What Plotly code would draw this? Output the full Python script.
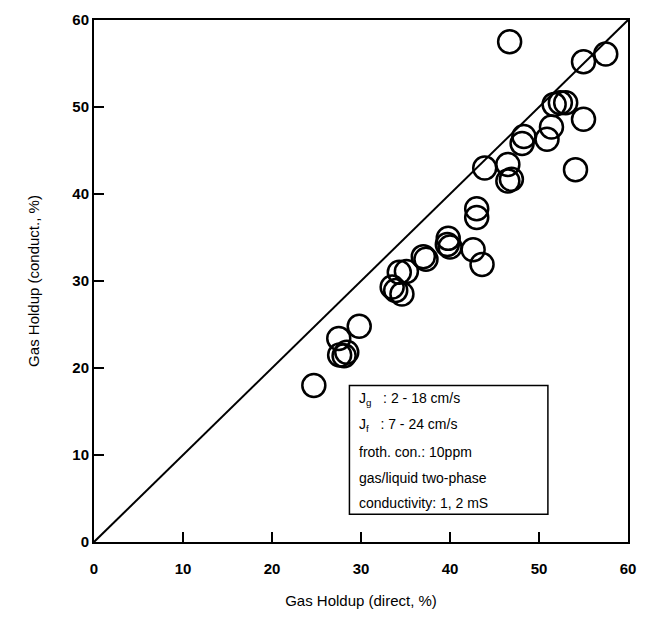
import plotly.graph_objects as go

# Data (Gas holdup: direct vs conductivity, %)
holdup_direct = [24.7, 27.5, 27.6, 28.4, 28.1, 29.8, 33.5, 33.9, 34.6, 34.3, 35.1, 37.0,
                 37.3, 39.8, 39.7, 40.0, 42.6, 43.6, 43.0, 43.0, 43.9, 46.5, 46.5, 46.9,
                 46.7, 48.3, 48.1, 50.9, 51.4, 51.7, 52.4, 53.0, 54.1, 55.0, 55.0, 57.5]
holdup_conduct = [18.0, 23.4, 21.5, 21.8, 21.4, 24.8, 29.3, 28.9, 28.5, 31.0, 31.1, 32.8,
                  32.5, 34.9, 34.2, 33.9, 33.6, 31.9, 38.3, 37.3, 43.0, 43.4, 41.5, 41.7,
                  57.5, 46.6, 45.8, 46.3, 47.7, 50.3, 50.5, 50.5, 42.8, 48.6, 55.2, 56.1]
parity_x = [0, 60]
parity_y = [0, 60]
tick_vals = [0, 10, 20, 30, 40, 50, 60]
legend_lines = [
    "J<sub>g</sub>   : 2 - 18 cm/s",
    "J<sub>f</sub>   : 7 - 24 cm/s",
    "froth. con.: 10ppm",
    "gas/liquid two-phase",
    "conductivity: 1, 2 mS",
]

FONT = "Liberation Sans, Arial, sans-serif"

fig = go.Figure()
fig.add_trace(go.Scatter(x=parity_x, y=parity_y, mode="lines",
                         line=dict(color="black", width=2), showlegend=False,
                         hoverinfo="skip"))
fig.add_trace(go.Scatter(x=holdup_direct, y=holdup_conduct, mode="markers",
                         marker=dict(symbol="circle-open", size=23, color="black",
                                     line=dict(color="black", width=2.5)),
                         showlegend=False))

# info box
fig.add_shape(type="rect", xref="x", yref="y", x0=28.7, x1=51.0, y0=3.2, y1=18.0,
              line=dict(color="black", width=1.5), fillcolor="white", layer="above")
line_y = [16.4, 13.4, 10.4, 7.4, 4.45]
for txt, yy in zip(legend_lines, line_y):
    fig.add_annotation(x=29.6, y=yy, xref="x", yref="y", text=txt, showarrow=False,
                       xanchor="left", yanchor="middle",
                       font=dict(family=FONT, size=14, color="black"))

axis_common = dict(range=[0, 60], tickvals=tick_vals, showgrid=False, zeroline=False,
                   showline=True, linecolor="black", linewidth=2, mirror=True,
                   ticks="inside", ticklen=10, tickwidth=1.5, tickcolor="black",
                   tickfont=dict(family=FONT, size=15, color="black", weight="bold"))

fig.update_xaxes(**axis_common, ticklabelstandoff=12,
                 title=dict(text="Gas Holdup (direct, %)", standoff=19,
                            font=dict(family=FONT, size=15, color="black")))
fig.update_yaxes(**axis_common,
                 title=dict(text="Gas Holdup (conduct., %)", standoff=29,
                            font=dict(family=FONT, size=15, color="black")))

fig.update_layout(width=647, height=618, margin=dict(l=94, r=13, t=11, b=75),
                  plot_bgcolor="white", paper_bgcolor="white")

fig.write_html("out.html")
